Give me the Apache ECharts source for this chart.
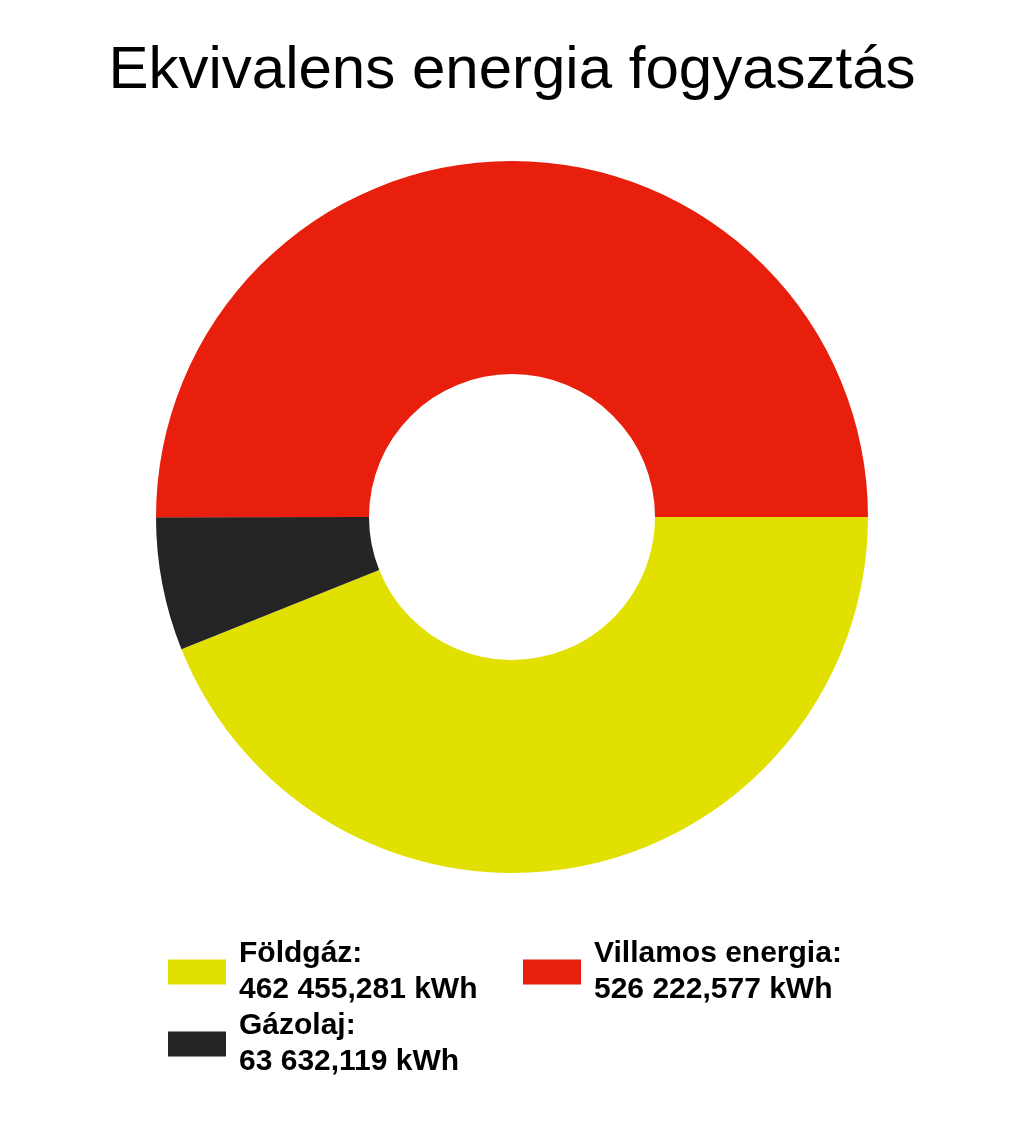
<!DOCTYPE html>
<html>
<head>
<meta charset="utf-8">
<script src="https://cdn.jsdelivr.net/npm/echarts@6/dist/echarts.min.js"></script>
<style>
html,body{margin:0;padding:0;background:#fff;}
#chart{width:1024px;height:1126px;}
</style>
</head>
<body>
<div id="chart"></div>
<script>
var titleText = 'Ekvivalens energia fogyasztás';
var categories = ['Földgáz', 'Gázolaj', 'Villamos energia'];
var values = [462455.281, 63632.119, 526222.577];
var colors = ['#e1e000', '#242424', '#e81f0c'];
var unit = 'kWh';

function fmt(v) {
  var parts = v.toFixed(3).split('.');
  var intPart = parts[0].replace(/\B(?=(\d{3})+(?!\d))/g, ' ');
  return intPart + ',' + parts[1];
}
var valueByName = {};
categories.forEach(function (c, i) { valueByName[c] = values[i]; });

var legendBase = {
  orient: 'vertical',
  itemWidth: 58,
  itemHeight: 25,
  icon: 'rect',
  selectedMode: false,
  formatter: function (name) { return name + ':\n' + fmt(valueByName[name]) + ' ' + unit; },
  textStyle: {
    fontFamily: 'Liberation Sans',
    fontWeight: 'bold',
    fontSize: 30,
    lineHeight: 36,
    color: '#000',
    padding: [0, 0, 0, 8]
  }
};
function legendAt(name, left, top) {
  var l = Object.assign({}, legendBase);
  l.data = [name];
  l.left = left;
  l.top = top;
  l.padding = 0;
  return l;
}

var chart = echarts.init(document.getElementById('chart'), null, { renderer: 'canvas' });
chart.setOption({
  animation: false,
  color: colors,
  title: {
    text: titleText,
    left: 'center',
    top: 36,
    textStyle: { fontFamily: 'Liberation Sans', fontWeight: 'normal', fontSize: 60, color: '#000' }
  },
  legend: [
    legendAt(categories[0], 168, 936),
    legendAt(categories[2], 523, 936),
    legendAt(categories[1], 168, 1008)
  ],
  series: [{
    type: 'pie',
    center: [512, 517],
    radius: [143, 356],
    startAngle: 0,
    clockwise: true,
    label: { show: false },
    labelLine: { show: false },
    emphasis: { disabled: true },
    itemStyle: { borderWidth: 0 },
    data: categories.map(function (c, i) { return { name: c, value: values[i] }; })
  }]
});
</script>
</body>
</html>
